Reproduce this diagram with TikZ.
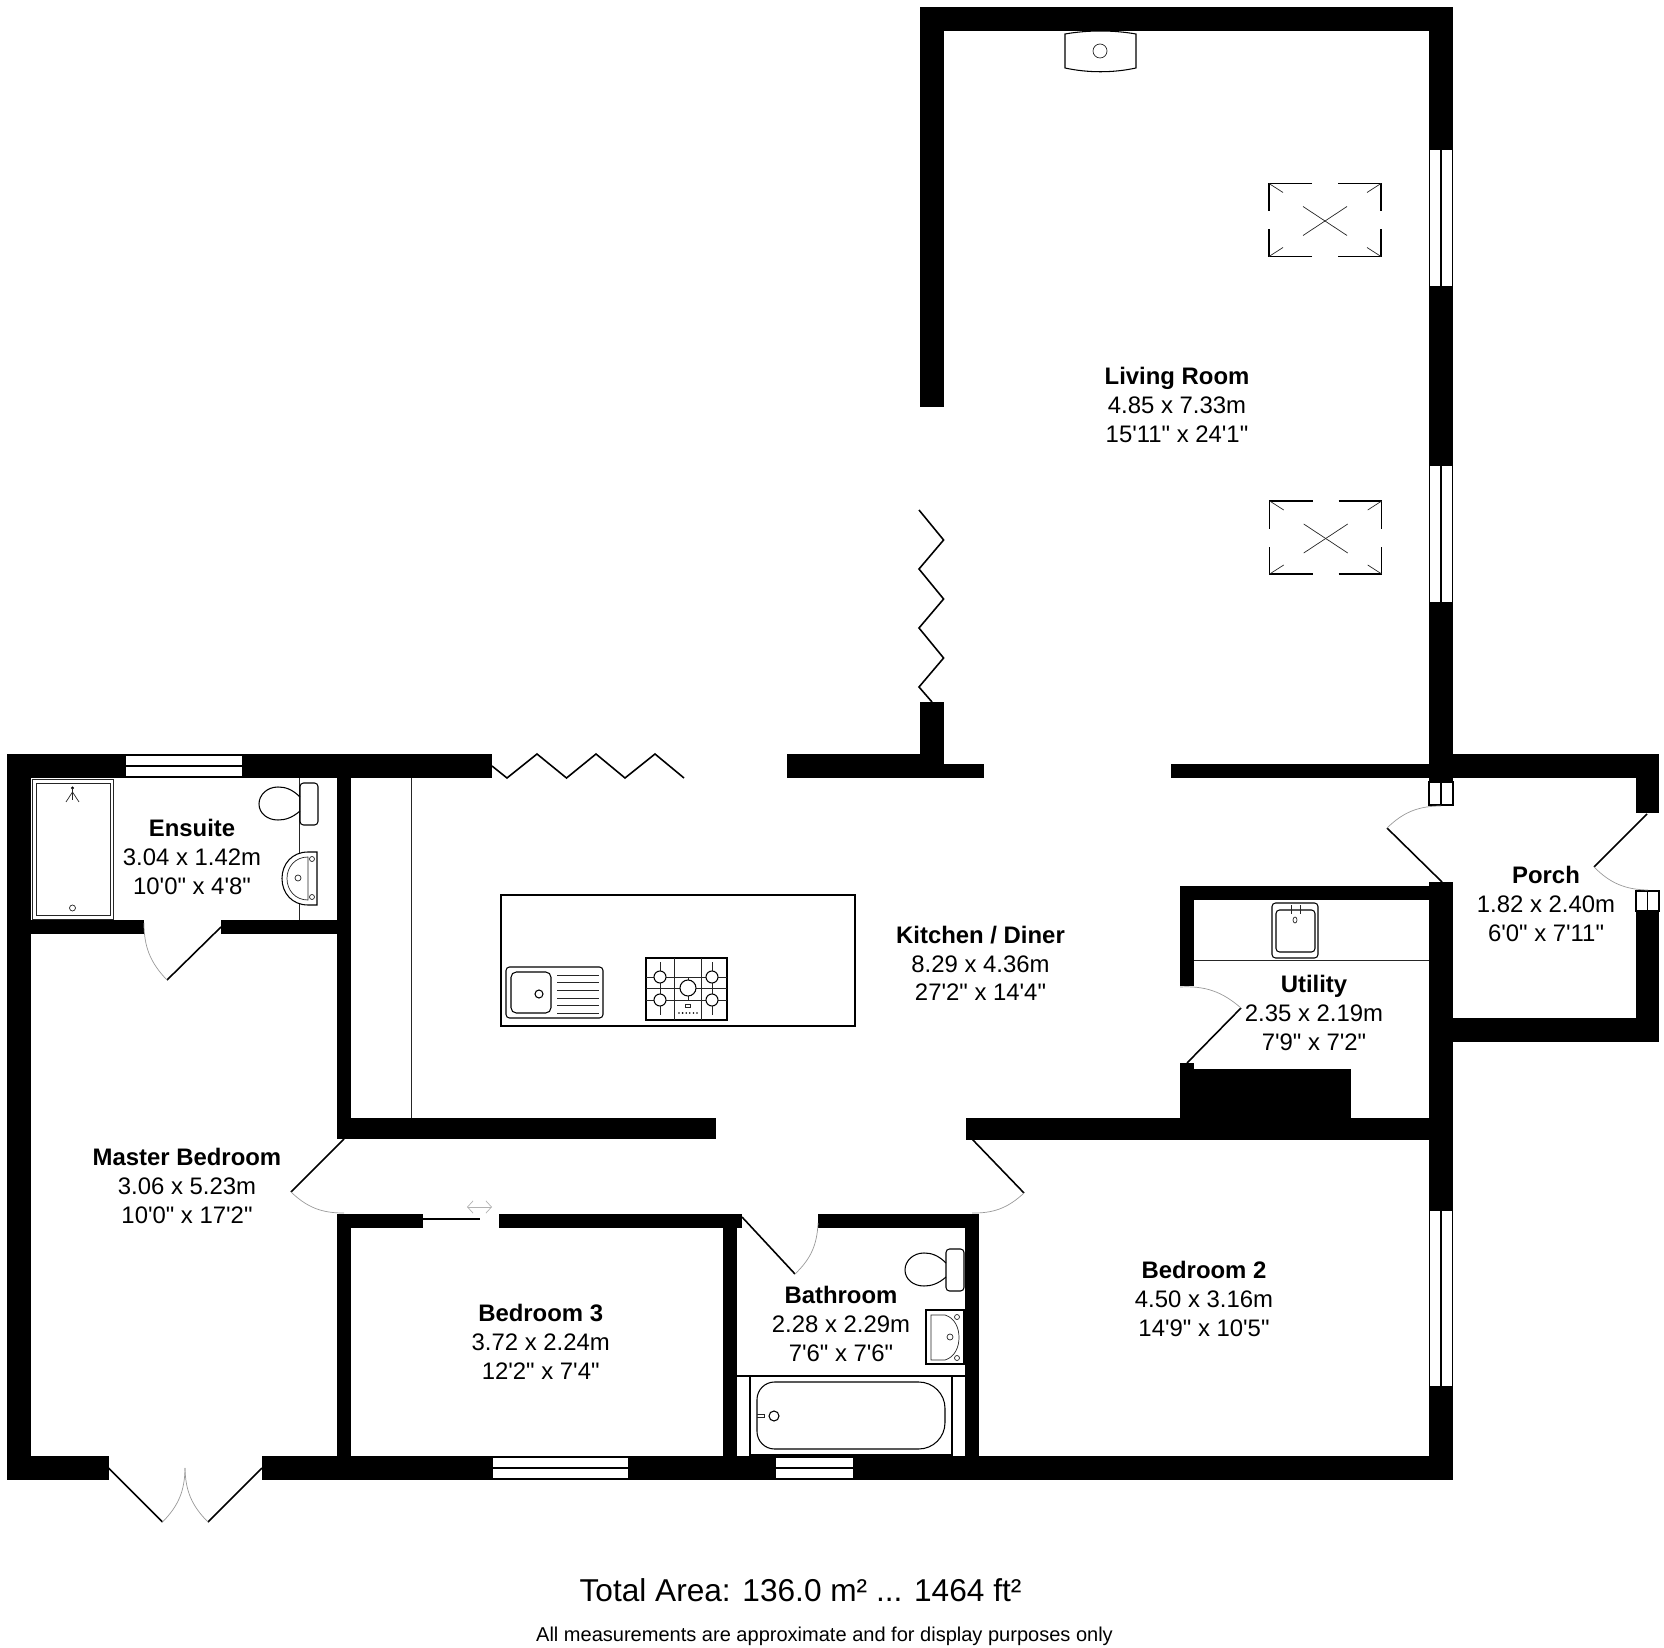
\documentclass[tikz,border=0pt]{standalone}
\usepackage{fontspec}
\usepackage{tikz}
\usetikzlibrary{arrows,arrows.meta}
\newfontfamily\planfont{Liberation Sans}
\tikzset{
  wall/.style={fill=black},
  glass/.style={fill=white},
  frame/.style={draw=black, fill=white, line width=1pt},
  leaf/.style={black, line width=0.9pt},
  swing/.style={gray!80, line width=0.4pt},
  fitting/.style={black, line width=0.6pt},
  fine/.style={black!85, line width=0.4pt},
  roomlabel/.style={align=center, inner sep=0pt, font=\planfont\fontsize{13.6}{16.4}\selectfont}
}
\newcommand{\winh}[3]{\fill[glass] (#1,#3-10) rectangle (#2,#3-1); \fill[glass] (#1,#3+1) rectangle (#2,#3+10);}
\newcommand{\winv}[3]{\fill[glass] (#3-11,#1) rectangle (#3-1,#2); \fill[glass] (#3+1,#1) rectangle (#3+11,#2);}
\newcommand{\doorswing}[4]{\draw[leaf] (#1) -- (#2); \draw[swing] (#2) to[#4=22] (#3);}
\newcommand{\toilet}[1]{\begin{scope}[shift={(#1)}]
      \draw[fitting, rounded corners=2pt] (0,-21) rectangle (18,21);
      \draw[fitting] (0,-7) .. controls (-8,-15) and (-15,-17) .. (-22,-17) .. controls (-33,-17) and (-41,-9) .. (-41,0) .. controls (-41,9) and (-33,16) .. (-22,16) .. controls (-15,16) and (-8,14) .. (0,7);
   \end{scope}}
\newcommand{\skylight}[2]{\begin{scope}[shift={(#1,#2)}]
      \draw[fitting] (-13,-37) -- (-56,-37) -- (-56,-9);
      \draw[fitting] (13,-37) -- (56,-37) -- (56,-9);
      \draw[fitting] (-13,36) -- (-56,36) -- (-56,9);
      \draw[fitting] (13,36) -- (56,36) -- (56,9);
      \draw[fine] (-56,-37) -- (-42,-28);
      \draw[fine] (56,-37) -- (42,-28);
      \draw[fine] (-56,36) -- (-42,27);
      \draw[fine] (56,36) -- (42,27);
      \draw[fine] (-22,-14) -- (22,15);
      \draw[fine] (-22,15) -- (22,-14);
   \end{scope}}

\begin{document}
\begin{tikzpicture}[x=0.02cm,y=-0.02cm]
      \useasboundingbox (0,0) rectangle (1664,1648);
      \fill[wall] (920,7) rectangle (1453,31);
      \fill[wall] (920,7) rectangle (943.5,407);
      \fill[wall] (1429,7) rectangle (1453,782);
      \fill[wall] (1429,882) rectangle (1453,1480);
      \fill[wall] (919.6,702) rectangle (943.6,778);
      \fill[wall] (787,754) rectangle (943.6,778);
      \fill[wall] (943.6,764) rectangle (983.6,778);
      \fill[wall] (1170.7,764) rectangle (1429,778);
      \fill[wall] (7,754) rectangle (492,778);
      \fill[wall] (7,754) rectangle (31,1480);
      \fill[wall] (7,1456) rectangle (108.6,1480);
      \fill[wall] (262,1456) rectangle (1453,1480);
      \fill[wall] (31,920) rectangle (144,934);
      \fill[wall] (221,920) rectangle (337,934);
      \fill[wall] (337,778) rectangle (351,1139);
      \fill[wall] (337,1118) rectangle (716,1139);
      \fill[wall] (337,1213.5) rectangle (422.5,1227.5);
      \fill[wall] (498.6,1213.5) rectangle (742,1227.5);
      \fill[wall] (337,1213.5) rectangle (351,1456);
      \fill[wall] (723,1213.5) rectangle (737,1456);
      \fill[wall] (818,1213.5) rectangle (979,1227.5);
      \fill[wall] (965,1213.5) rectangle (979,1456);
      \fill[wall] (966,1118) rectangle (1429,1140);
      \fill[wall] (1453,754) rectangle (1659,778);
      \fill[wall] (1636,754) rectangle (1659,813);
      \fill[wall] (1636,911) rectangle (1659,1042);
      \fill[wall] (1453,1018) rectangle (1659,1042);
      \fill[wall] (1180,886) rectangle (1429,900);
      \fill[wall] (1180,886) rectangle (1194,986);
      \fill[wall] (1180,1063) rectangle (1194,1069);
      \fill[wall] (1180,1069) rectangle (1351,1118);

      \winh{126}{242}{766}
      \winh{493}{628}{1468}
      \winh{776}{853}{1468}
      \winv{150}{286}{1441}
      \winv{466}{602}{1441}
      \winv{1211}{1386}{1441}
      \draw[frame] (1429,782) rectangle (1453,805);
      \draw[frame] (1441,782) -- (1441,805);
      \draw[frame] (1636,891) rectangle (1659,911);
      \draw[frame] (1647.5,891) -- (1647.5,911);

      \doorswing{221,927}{167,980}{144,923}{bend left}
      \doorswing{344,1139}{291,1192}{344,1213}{bend right}
      \doorswing{108.6,1468}{162.5,1522}{185,1468}{bend right}
      \doorswing{262,1468}{208,1522}{185,1468}{bend left}
      \doorswing{1442,882}{1387,828}{1441,806}{bend left}
      \doorswing{1647,814}{1594,867}{1648,890}{bend right}
      \doorswing{1187,1063}{1241,1008}{1180,987}{bend right}
      \doorswing{742,1217}{795,1274}{818,1223}{bend right}
      \doorswing{972,1139}{1024,1193}{972,1213}{bend left}

      \draw[leaf] (422.5,1219) -- (480,1219);
      \draw[gray!60, line width=0.4pt, {Straight Barb[length=3.2pt,width=7pt]}-{Straight Barb[length=3.2pt,width=7pt]}] (467,1207) -- (492,1207);
      \draw[leaf] (492,766) -- (507,778) -- (537,754) -- (566.5,778) -- (596,754) -- (625,778) -- (655,754) -- (684,778);
      \draw[leaf] (919,510) -- (943.6,540) -- (919,569) -- (943.6,599) -- (919,628) -- (943.6,658) -- (919,687) -- (932,702);

      \draw[fitting] (1065,34) .. controls (1088,30) and (1113,30) .. (1136,34) -- (1136,68) .. controls (1113,73) and (1088,73) .. (1065,68) -- cycle;
      \draw[fine] (1100,51) circle (7);
      \skylight{1325}{220.5}
      \skylight{1325.7}{538}

      \draw[fine] (32,779) rectangle (113,919);
      \draw[fine] (36,783) rectangle (110,915);
      \fill (72.5,788) circle (1.7);
      \draw[fine] (72.5,788) -- (72.5,800);
      \draw[fine] (72.5,792) -- (66,802);
      \draw[fine] (72.5,792) -- (79,802);
      \draw[fine] (72.5,908) circle (3);
      \draw[fine] (299.5,778) -- (299.5,920);
      \toilet{300,804}
      \draw[fitting, fill=white] (317,852) -- (308,852) .. controls (292,852) and (282,864) .. (282,878.5) .. controls (282,893) and (292,905) .. (308,905) -- (317,905) -- cycle;
      \draw[fine] (308,857) .. controls (295,857) and (287,867) .. (287,878.5) .. controls (287,890) and (295,900) .. (308,900) -- cycle;
      \foreach \y in {859,897} \draw[fine] (312,\y) circle (2.5);
      \draw[fine] (298,878) circle (3);
      \draw[fine] (411.5,778) -- (411.5,1118);

      \draw[fitting] (501,895) rectangle (855,1026);
      \draw[fitting, rounded corners=2pt] (506,967) rectangle (603,1018);
      \draw[fitting, rounded corners=3pt] (511,972) rectangle (551,1013);
      \draw[fitting] (539,994) circle (4);
      \foreach \y in {975,982.5,990.5,998,1005.5,1013} \draw[fine] (557,\y) -- (599,\y);
      \draw[black, line width=1.1pt] (646,958) rectangle (727,1020);
      \draw[fine] (674,958) -- (674,1020);
      \draw[fine] (701,958) -- (701,1020);
      \foreach \y in {977,988,1000} \draw[fine] (646,\y) -- (727,\y);
      \foreach \x in {660,712} \draw[fine] (\x,962) -- (\x,1015);
      \draw[fine] (688,977) -- (688,1000);
      \foreach \x in {660,712} \foreach \y in {977,1000} \draw[fitting, fill=white] (\x,\y) circle (6);
      \draw[fitting, fill=white] (688,988) circle (8);
      \draw[fine] (685.5,1004.5) rectangle (690.5,1007.5);
      \foreach \x in {679,682.6,686.2,689.8,693.4,697} \fill (\x,1013) circle (0.9);

      \draw[fitting, rounded corners=2pt] (1272,903) rectangle (1318,958);
      \draw[fitting, rounded corners=2pt] (1276,910) rectangle (1315,952);
      \draw[fine] (1291,905) -- (1291,914);
      \draw[fine] (1300,905) -- (1300,914);
      \draw[fine] (1295,920) ellipse (2 and 3);
      \draw[fine] (1194,960) -- (1429,960);

      \toilet{946,1270}
      \draw[fitting] (926,1310) rectangle (964,1364);
      \draw[fine] (931,1315) -- (945,1315) .. controls (955,1318) and (959,1328) .. (959,1337.5) .. controls (959,1347) and (955,1357) .. (945,1360) -- (931,1360) -- cycle;
      \foreach \y in {1317,1358} \draw[fine] (957,\y) circle (2.5);
      \draw[fine] (950,1337) circle (3);
      \draw[fitting] (737,1376) -- (965,1376);
      \draw[fitting] (750,1376) rectangle (952,1455);
      \draw[fitting] (850,1382) [rounded corners=15pt] -- (945,1382) -- (945,1449) -- (850,1449) [rounded corners=10pt] -- (757,1449) -- (757,1382) -- (850,1382);
      \draw[fitting] (774,1416) circle (5);
      \draw[fine] (757,1414) -- (764,1414) -- (764,1417) -- (757,1417);

      \node [roomlabel] (livinglabel) at (1177,405) {\bfseries Living Room\\4.85 x 7.33m\\15'11" x 24'1"};
      \node [roomlabel] (kitchenlabel) at (980.5,963.5) {\bfseries Kitchen / Diner\\8.29 x 4.36m\\27'2" x 14'4"};
      \node [roomlabel] (ensuitelabel) at (192,857) {\bfseries Ensuite\\3.04 x 1.42m\\10'0" x 4'8"};
      \node [roomlabel] (masterlabel) at (187,1186) {\bfseries Master Bedroom\\3.06 x 5.23m\\10'0" x 17'2"};
      \node [roomlabel] (utilitylabel) at (1314,1013) {\bfseries Utility\\2.35 x 2.19m\\7'9" x 7'2"};
      \node [roomlabel] (porchlabel) at (1546,904) {\bfseries Porch\\1.82 x 2.40m\\6'0" x 7'11"};
      \node [roomlabel] (bedtwolabel) at (1204,1299) {\bfseries Bedroom 2\\4.50 x 3.16m\\14'9" x 10'5"};
      \node [roomlabel] (bedthreelabel) at (540.7,1342) {\bfseries Bedroom 3\\3.72 x 2.24m\\12'2" x 7'4"};
      \node [roomlabel] (bathlabel) at (841,1324) {\bfseries Bathroom\\2.28 x 2.29m\\7'6" x 7'6"};
      \node [anchor=base, inner sep=0pt, font=\planfont\fontsize{18}{22}\selectfont] (totallabel) at (800.5,1601) {Total Area: 136.0 m² ... 1464 ft²};
      \node [anchor=base, inner sep=0pt, font=\planfont\fontsize{11.4}{14}\selectfont] (notelabel) at (824.5,1641) {All measurements are approximate and for display purposes only};
   \end{tikzpicture}
\end{document}
